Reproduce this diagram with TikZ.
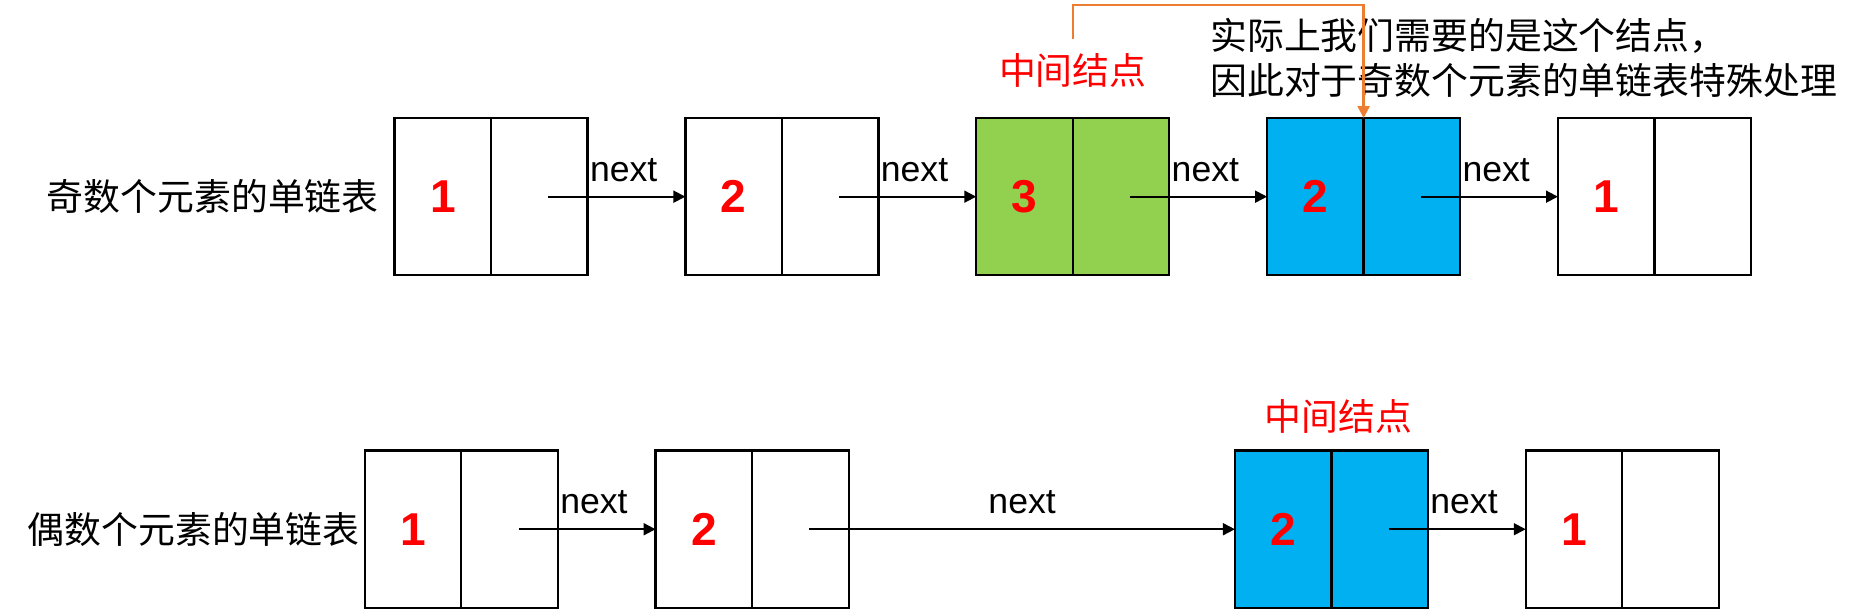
\documentclass[tikz,border=0pt]{standalone}
\usepackage{xcolor}
\usepackage{tikz}
\usepackage{fontspec}
\setmainfont{Liberation Sans}
\newfontfamily\cjk{Noto Sans CJK SC}
\usetikzlibrary{arrows.meta, positioning}

\definecolor{midgreen}{HTML}{92D050}
\definecolor{midblue}{HTML}{00B0F0}
\definecolor{linkorange}{HTML}{ED7D31}

\begin{document}
\begin{tikzpicture}[
    cell/.style={draw, line width=1.1pt, minimum width=1.62cm, minimum height=2.64cm,
        inner sep=0pt, outer sep=0pt, text=red, font=\fontsize{22}{22}\selectfont\bfseries},
    cn_label/.style={font=\cjk\fontsize{17.6}{21.5}\selectfont, inner sep=0pt},
    edge_label/.style={font=\fontsize{17}{17}\selectfont, inner sep=0pt},
    link/.style={->, line width=0.9pt},
    mid_link/.style={->, draw=linkorange, line width=1.2pt},
    >={Triangle[length=2mm, width=2mm]},
]
    \useasboundingbox (0,0) rectangle (31.36,-10.22);

    % odd list
    \node[cell] (o1) at (7.43,-3.30) {1};
    \node[cell, right=0pt of o1] (o1n) {};
    \node[cell, right=1.64cm of o1n] (o2) {2};
    \node[cell, right=0pt of o2] (o2n) {};
    \node[cell, fill=midgreen, right=1.64cm of o2n] (o3) {3};
    \node[cell, fill=midgreen, right=0pt of o3] (o3n) {};
    \node[cell, fill=midblue, right=1.64cm of o3n] (o4) {2};
    \node[cell, fill=midblue, right=0pt of o4] (o4n) {};
    \node[cell, right=1.64cm of o4n] (o5) {1};
    \node[cell, right=0pt of o5] (o5n) {};

    \node[cn_label, left=0.26cm of o1] (odd_label) {奇数个元素的单链表};
    \node[cn_label, text=red, above=0.5cm of o3n.north west] (mid_odd) {中间结点};
    \node[cn_label, align=left, anchor=west] (note) at (20.30,-0.98)
        {实际上我们需要的是这个结点，\\因此对于奇数个元素的单链表特殊处理};

    \draw[link] ([xshift=0.15cm]o1n.center) -- node[edge_label, above=0.24cm, pos=0.55] {next} (o2.west);
    \draw[link] ([xshift=0.15cm]o2n.center) -- node[edge_label, above=0.24cm, pos=0.55] {next} (o3.west);
    \draw[link] ([xshift=0.15cm]o3n.center) -- node[edge_label, above=0.24cm, pos=0.55] {next} (o4.west);
    \draw[link] ([xshift=0.15cm]o4n.center) -- node[edge_label, above=0.24cm, pos=0.55] {next} (o5.west);
    \draw[mid_link] ([yshift=0.25cm]mid_odd.north) -- ++(0,0.56) -| (o4n.north west);

    % even list
    \node[cell] (e1) at (6.93,-8.88) {1};
    \node[cell, right=0pt of e1] (e1n) {};
    \node[cell, right=1.64cm of e1n] (e2) {2};
    \node[cell, right=0pt of e2] (e2n) {};
    \node[cell, fill=midblue, right=6.48cm of e2n] (e3) {2};
    \node[cell, fill=midblue, right=0pt of e3] (e3n) {};
    \node[cell, right=1.64cm of e3n] (e4) {1};
    \node[cell, right=0pt of e4] (e4n) {};

    \node[cn_label, left=0.08cm of e1] (even_label) {偶数个元素的单链表};
    \node[cn_label, text=red, above=0.28cm of e3n.north west, xshift=0.12cm] (mid_even) {中间结点};

    \draw[link] ([xshift=0.15cm]e1n.center) -- node[edge_label, above=0.24cm, pos=0.55] {next} (e2.west);
    \draw[link] ([xshift=0.15cm]e2n.center) -- node[edge_label, above=0.24cm] {next} (e3.west);
    \draw[link] ([xshift=0.15cm]e3n.center) -- node[edge_label, above=0.24cm, pos=0.55] {next} (e4.west);
\end{tikzpicture}
\end{document}
